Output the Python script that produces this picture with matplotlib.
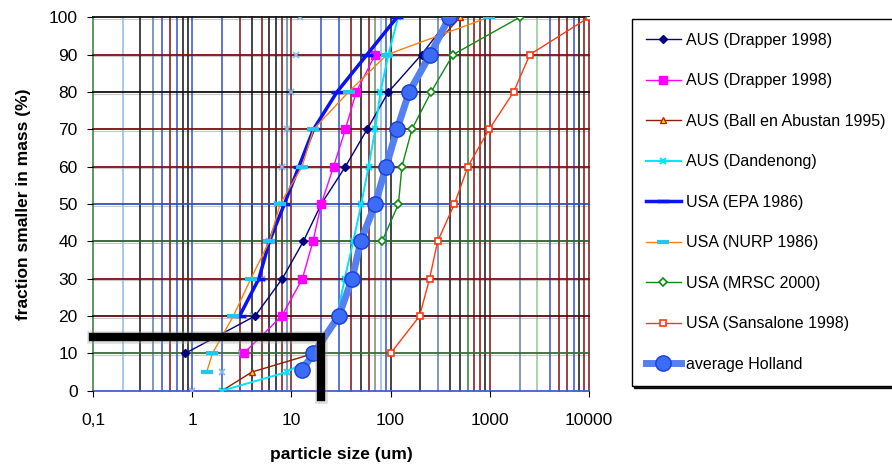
import numpy as np
import matplotlib
matplotlib.use('Agg')
import matplotlib.pyplot as plt
from matplotlib.ticker import NullLocator

plt.rcParams['font.family'] = ['Liberation Sans', 'DejaVu Sans']

'''
Grading curves read off the chart: particle size (um) vs fraction smaller (%)
'''
drapper1_size = [0.85, 4.3, 8.1, 13.2, 20, 35, 58, 95, 205, 400]
drapper1_frac = [10, 20, 30, 40, 50, 60, 70, 80, 90, 100]

drapper2_size = [3.3, 8.0, 12.9, 16.5, 20, 26.6, 35, 45, 70]
drapper2_frac = [10, 20, 30, 40, 50, 60, 70, 80, 90]

ball_size = [2, 4, 17, 30, 41, 50, 68, 88, 112, 150, 230, 500]
ball_frac = [0, 5, 10, 20, 30, 40, 50, 60, 70, 80, 90, 100]

dandenong_size = [2, 9, 19, 28.8, 34.5, 42, 50.6, 60, 70, 79, 95, 119]
dandenong_frac = [0, 5, 10, 20, 30, 40, 50, 60, 70, 80, 90, 100]

epa_size = [3.0, 4.7, 6.0, 8.5, 11.9, 16.7, 28.8, 57.8, 116]
epa_frac = [20, 30, 40, 50, 60, 70, 80, 90, 100]

nurp_size = [1.4, 1.6, 2.6, 3.9, 6.0, 7.7, 12.8, 16.7, 37.7, 92, 975]
nurp_frac = [5, 10, 20, 30, 40, 50, 60, 70, 80, 90, 100]

mrsc_size = [82, 120, 130, 164, 256, 426, 2000]
mrsc_frac = [40, 50, 60, 70, 80, 90, 100]

sansalone_size = [100, 196, 247, 298, 440, 600, 985, 1740, 2530, 10000]
sansalone_frac = [10, 20, 30, 40, 50, 60, 70, 80, 90, 100]

holland_size = [12.8, 16.7, 30, 41, 50, 70, 90, 116, 154, 251, 390]
holland_frac = [5.5, 10, 20, 30, 40, 50, 60, 70, 80, 90, 100]

# stray light blue crosses, no line and no legend entry
loose_size = [1.0, 2.0, 3.1, 4.1, 5.0, 6.0, 7.1, 8.1, 9.0, 10.0, 11.2, 12.3]
loose_frac = [0, 5, 10, 20, 30, 40, 50, 60, 70, 80, 90, 100]

# the thick black corner marking 20 um
cut_size = 20
cut_frac = 14.3

x_ticks = [0.1, 1, 10, 100, 1000, 10000]
x_labels = ['0,1', '1', '10', '100', '1000', '10000']
y_ticks = [0, 10, 20, 30, 40, 50, 60, 70, 80, 90, 100]

'''
Gridline colours (the scan has every line in a different colour)
'''
G, LB, K, ST, B, R, GG, LG = ('#2e7d32', '#8fb8e8', '#111111', '#5a7fa8',
                              '#3050d0', '#7a1010', '#6f8f6f', '#8fc88f')
vgrid_cols = [G, LB, K, ST, B, R, B, K, K,
              B, B, R, K, R, K, K, R, ST,
              R, B, B, R, K, R, GG, LB, B,
              K, K, ST, K, K, G, R, R, K,
              R, ST, LG, B, R, R, B, K, R,
              R]
hgrid_cols = ['#4060d0', '#3a6a3a', '#5a0a0a', R, '#2f5f2f', '#3050c0',
              R, R, K, R, K]

fig = plt.figure(figsize=(8.92, 4.67), dpi=100)
ax = fig.add_axes([93/892, 1 - 390.7/467, 496/892, 373.4/467])
ax.set_xscale('log')
ax.set_xlim(0.1, 10000)
ax.set_ylim(0, 100)

vpos = [k * 10.0**d for d in range(-1, 4) for k in range(1, 10)] + [10000]
for xv, c in zip(vpos, vgrid_cols):
    ax.axvline(xv, color=c, lw=1.1, zorder=1, clip_on=False)
for yv, c in zip(y_ticks, hgrid_cols):
    ax.axhline(yv, color=c, lw=1.3, zorder=1, clip_on=False)
    ax.axhline(yv - 0.45, color='#c8c8c8', lw=0.8, zorder=0.9)

for s in ax.spines.values():
    s.set_visible(False)

'''
The curves
'''
ax.plot(loose_size, loose_frac, ls='none', marker='x', ms=4.5, mew=1.2,
        color='#86b6ee', zorder=2)
ax.plot(drapper1_size, drapper1_frac, color='#000080', lw=1, marker='D', ms=4.5,
        label='AUS (Drapper 1998)', zorder=3)
ax.plot(drapper2_size, drapper2_frac, color='#ff00ff', lw=1, marker='s', ms=5.5,
        label='AUS (Drapper 1998)', zorder=3)
ax.plot(ball_size, ball_frac, color='#8b2000', lw=1, marker='^', ms=5,
        mfc='#ffe000', mec='#c02000', label='AUS (Ball en Abustan 1995)', zorder=3)
ax.plot(dandenong_size, dandenong_frac, color='#00e5ff', lw=1.4, marker='x', ms=5,
        mew=1.5, label='AUS (Dandenong)', zorder=3)
ax.plot(epa_size, epa_frac, color='#0a14f0', lw=2.5, marker='_', ms=8, mew=2.5,
        label='USA (EPA 1986)', zorder=3)
ax.plot(nurp_size, nurp_frac, color='#ff7f10', lw=1, marker='_', ms=9, mew=3,
        mec='#20c8f0', label='USA (NURP 1986)', zorder=3)
ax.plot(mrsc_size, mrsc_frac, color='#108a10', lw=1, marker='D', ms=4.5,
        mfc='white', mec='#108a10', mew=1.2, label='USA (MRSC 2000)', zorder=3)
ax.plot(sansalone_size, sansalone_frac, color='#ff3a10', lw=1, marker='s', ms=4,
        mfc='white', mec='#ff3a10', mew=1.2, label='USA (Sansalone 1998)', zorder=3)
ax.plot(holland_size, holland_frac, color='#5580f2', lw=5, marker='o', ms=11,
        mfc='#3a6cf6', mec='#1c3cd8', mew=1, label='average Holland', zorder=4)

# black corner with a soft shadow
ax.plot([0.1, cut_size, cut_size], [cut_frac, cut_frac, -1.8], color='#999999',
        lw=9, alpha=0.35, solid_joinstyle='miter', clip_on=False, zorder=5)
ax.plot([0.1, cut_size, cut_size], [cut_frac, cut_frac, -1.8], color='black',
        lw=6, solid_joinstyle='miter', clip_on=False, zorder=6)

ax.xaxis.set_minor_locator(NullLocator())
ax.set_xticks(x_ticks)
ax.set_xticklabels(x_labels)
ax.set_yticks(y_ticks)
ax.tick_params(axis='x', length=4, pad=12, labelsize=12.5)
ax.tick_params(axis='y', length=4, pad=7, labelsize=12.5)

ax.set_xlabel('particle size (um)', fontsize=12.5, fontweight='bold', labelpad=14)
ax.set_ylabel('fraction smaller in mass (%)', fontsize=12.5, fontweight='bold',
              labelpad=13)

leg = fig.legend(loc='upper left', bbox_to_anchor=(632/892, 1 - 19/467),
                 borderaxespad=0, fontsize=11.5, labelspacing=1.6,
                 handlelength=2.2, handletextpad=0.35, borderpad=0.85,
                 frameon=True, fancybox=False, edgecolor='black',
                 shadow={'color': 'black', 'alpha': 0.9, 'ox': 1.5, 'oy': -1.5})
leg.get_frame().set_linewidth(1)

fig.savefig('out.png', dpi=100)
